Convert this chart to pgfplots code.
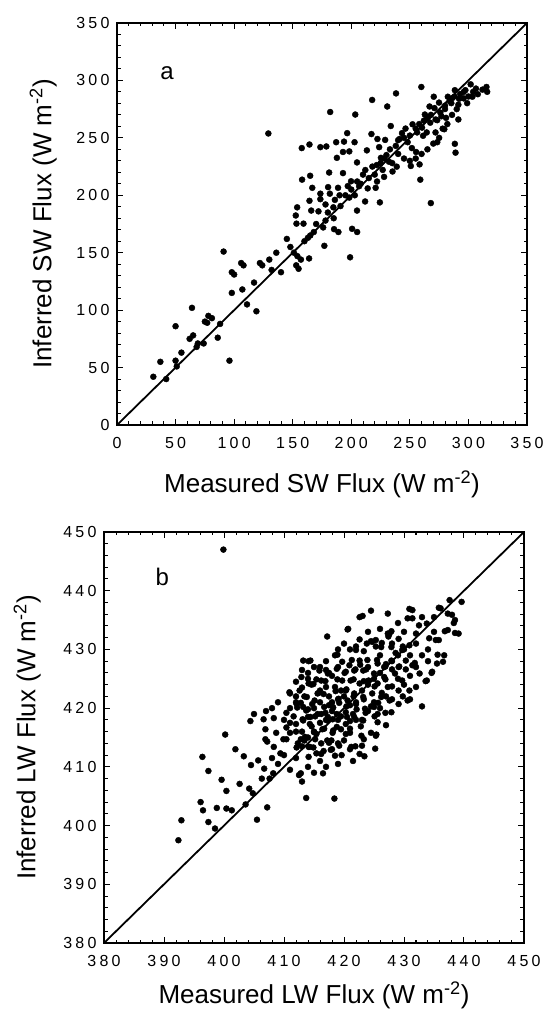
\documentclass[border=0pt]{standalone}
\usepackage{fontspec}
\setmainfont{Liberation Sans}
\newfontfamily\tickfont[LetterSpace=20]{Liberation Sans}
\usepackage{pgfplots}
\pgfplotsset{compat=1.18}
\pgfplotsset{
  myax/.style={
    scale only axis, anchor=south west,
    tick align=inside, tick pos=both,
    major tick length=6pt, minor tick length=3.5pt,
    axis line style={line width=1.3pt},
    every tick/.style={black, line width=1pt},
    ticklabel style={font=\tickfont\fontsize{16}{16}\selectfont},
    xticklabel style={yshift=-9pt},
    yticklabel style={xshift=-4pt},
    /pgf/number format/assume math mode=true,
    /pgf/number format/1000 sep={},
    label style={font=\fontsize{26}{26}\selectfont},
    minor x tick num=4, minor y tick num=4,
  },
  dots/.style={only marks, mark=*, mark size=3pt, black, mark options={fill=black}},
}
\begin{document}
\begin{tikzpicture}[x=1pt,y=1pt]
\path[use as bounding box] (0,0) rectangle (552,1017);
% ---------------- panel a ----------------
\begin{axis}[myax, at={(117pt,592pt)}, width=410pt, height=402pt,
  xmin=0, xmax=350, ymin=0, ymax=350,
  xtick={0,50,...,350}, ytick={0,50,...,350},
  xlabel={Measured SW Flux (W m\textsuperscript{-2})},
  ylabel={Inferred SW Flux (W m\textsuperscript{-2})},
  xlabel style={at={(axis description cs:0.5,-0.147)}, anchor=center},
  ylabel style={at={(axis description cs:-0.180,0.5)}, anchor=center},
]
\addplot[black, line width=1.8pt] coordinates {(0,0) (350,350)};
\addplot[dots] coordinates {
(31,42) (37,55) (42,40) (50,86) (50,56) (51,51) (55,63) (64,102) (62,75) (65,78)
(68,68) (69,71) (74,71) (75,90) (78,95) (81,93) (77,89) (86,76) (88,88) (91,151)
(96,56) (98,133) (100,131) (98,115) (106,141) (108,139) (107,118) (111,105) (117,124) (119,99)
(122,141) (124,139) (130,144) (132,135) (136,150) (140,133) (145,162) (148,155) (151,150) (154,147)
(155,136) (157,144) (153,139) (164,145) (163,163) (177,156) (189,168) (199,146) (205,168)
(129.2,253.8) (157.7,241.1) (164.3,244.2) (164.9,217.0) (158.0,213.6) (182.0,272.5) (173.6,241.9) (178.7,242.5)
(181.1,219.8) (181.7,201.4) (173.6,201.4) (166.7,206.5) (164.3,195.2) (153.8,189.5) (152.6,182.4) (153.2,175.3)
(159.2,175.3) (185.3,170.5) (200.7,170.8) (165.8,186.7) (173.6,196.6) (184.7,189.5) (190.8,190.6) (198.3,198.0)
(204.9,186.7) (211.8,194.6) (224.4,193.8) (206.7,207.9) (199.8,212.2) (192.9,219.3) (188.7,206.5) (180.2,207.1)
(187.7,232.6) (187.1,246.2) (192.9,237.7) (193.8,246.7) (196.5,254.1) (203.4,270.3) (198.3,238.2) (202.8,246.2)
(204.9,228.6) (213.3,239.1) (217.8,283.0) (217.2,253.3) (222.3,249.0) (221.7,226.3) (228.3,232.0) (225.3,232.6)
(232.2,229.2) (235.2,220.7) (238.8,224.9) (220.8,206.5) (226.8,222.1) (233.7,260.3) (238.2,288.7) (228.9,248.2)
(230.7,277.3) (223.8,241.9) (241.2,249.0) (243.3,254.1) (246.3,258.1) (248.1,246.2) (251.7,241.1) (258.3,226.9)
(250.8,225.5) (255.3,237.7) (258.9,213.6) (267.9,193.2) (261.3,251.8) (260.4,258.9) (264.4,254.7) (259.8,294.3)
(262.8,270.3) (270.4,285.8) (266.8,277.3) (271.0,275.9) (274.9,280.7) (267.4,263.2) (273.4,265.4) (277.0,268.8)
(282.4,285.8) (280.0,275.1) (286.0,284.4) (288.4,291.5) (292.9,288.1) (297.4,291.5) (301.9,296.6) (295.9,284.4)
(291.4,278.8) (285.4,280.2) (280.9,267.4) (288.4,244.8) (289.0,237.1) (291.4,266.0) (298.9,280.2) (306.4,292.9)
(315.4,294.3) (316.0,290.1) (303.4,285.8) (273.4,246.2) (271.9,254.7) (279.4,257.5) (252.3,261.8) (256.2,254.7)
(195,200) (200,205) (205,212) (210,218) (212,222) (215,215) (218,225) (225,228) (230,235) (233,240)
(238,243) (240,248) (245,250) (250,252) (255,258) (258,262) (262,265) (265,268) (268,270) (272,266)
(276,272) (280,278) (284,282) (288,286) (292,284) (296,290) (300,286) (304,290) (308,288) (312,292)
(290,275) (286,270) (282,262) (278,258) (275,250) (270,245) (265,240) (260,236) (255,232) (250,230)
(245,232) (240,236) (235,228) (228,216) (222,212) (185,180) (180,185) (178,178) (176,172) (170,175)
(168,168) (165,165) (160,160) (172,186) (178,192) (186,196) (190,200) (197,208) (203,200) (208,210)
(214,206) (220,218)
};
\node[font=\fontsize{24}{24}\selectfont] at (axis cs:42.7,306) {a};
\end{axis}
% ---------------- panel b ----------------
\begin{axis}[myax, at={(104pt,74pt)}, width=420pt, height=411pt,
  xmin=380, xmax=450, ymin=380, ymax=450,
  xtick={380,390,...,450}, ytick={380,390,...,450},
  xlabel={Measured LW Flux (W m\textsuperscript{-2})},
  ylabel={Inferred LW Flux (W m\textsuperscript{-2})},
  xlabel style={at={(axis description cs:0.5,-0.1265)}, anchor=center},
  ylabel style={at={(axis description cs:-0.183,0.5)}, anchor=center},
]
\addplot[black, line width=1.8pt] coordinates {(380,380) (450,450)};
\addplot[dots] coordinates {
(392.4,397.5) (392.9,400.9) (396.1,404.0) (396.5,402.6) (396.4,411.7) (397.4,409.3) (397.4,400.6) (398.5,399.5)
(398.8,403.0) (399.6,407.8) (400.4,405.9) (400.4,402.9) (401.3,402.6) (401.9,413.0) (402.6,407.1) (403.3,411.8)
(403.6,403.6) (404.2,406.3) (404.5,410.3) (404.8,405.5) (405.5,401.0) (405.7,411.1) (406.3,408.0) (406.7,409.7)
(407.2,403.1) (407.6,408.0) (408.2,408.9) (407.2,414.3) (408.3,413.4) (409.4,412.3) (412.5,408.6) (412.8,408.9)
(413.7,404.7) (414.1,411.7) (414.3,413.4) (416.5,408.9) (418.4,404.6) (417.8,412.9) (419.6,412.0) (421.5,411.0)
(421.9,413.5) (423.4,411.8) (425.2,413.1) (415.4,412.3) (419.0,414.0)
(399.9,447.0) (400.2,415.5) (404.4,417.8) (406.6,418.1) (408.3,418.3) (410.9,422.7) (412.2,420.1) (414.1,428.0)
(417.2,432.2) (420.7,433.5) (423.1,435.7) (424.5,436.6) (430.9,436.9) (430.6,435.3) (432.5,434.1) (435.8,437.1)
(437.6,438.4) (439.6,438.1) (438.0,435.9) (438.3,434.5) (438.5,432.8) (436.8,433.1) (434.2,431.9) (435.3,431.6)
(435.6,429.1) (436.5,427.9) (434.6,426.0) (433.6,424.6) (433.0,420.3) (429.8,422.0) (431.0,425.5) (431.8,427.7)
(429.8,430.5) (428.6,429.4) (427.4,432.2) (427.9,433.1) (426.3,431.1) (424.5,431.4) (423.3,429.7) (423.9,428.2)
(425.3,430.5) (425.5,428.2) (422.7,427.4) (421.3,428.2) (418.9,429.1) (421.9,426.6) (423.7,426.6) (426.9,427.1)
(428.0,426.6) (429.2,427.1) (430.3,426.6) (426.9,424.9) (428.0,423.7) (426.3,422.6) (425.1,423.7) (423.3,424.6)
(421.6,424.9) (420.1,426.0) (418.9,424.9) (417.5,426.0) (416.9,424.6) (415.4,424.9) (414.6,424.0) (414.0,426.0)
(418.6,422.9) (420.4,423.2) (421.6,422.0) (423.3,421.5) (424.5,420.3) (425.7,420.9) (426.9,419.2) (425.1,418.6)
(423.6,419.2) (422.1,419.8) (420.4,420.3) (419.2,420.9) (417.5,422.0) (415.8,422.6) (413.4,422.0) (412.8,420.9)
(414.0,419.8) (415.2,418.6) (416.9,419.2) (418.1,418.1) (419.5,418.6) (421.0,417.8) (422.8,416.9) (424.5,415.8)
(425.4,415.5) (423.3,414.7) (421.0,415.8) (419.5,416.4) (418.1,415.8) (416.4,416.4) (414.6,416.9) (413.1,418.1)
(411.6,418.6) (410.4,419.2) (411.0,415.8) (409.9,414.7) (408.7,415.8) (406.9,416.4) (406.9,414.7) (412.8,414.7)
(415.2,414.7) (417.5,414.1) (419.2,413.6) (421.0,413.0) (423.0,413.6)
(410.4,416.7) (410.4,414.7) (412.1,413.3) (413.4,414.5) (414.9,413.3) (416.6,412.7) (415.4,415.6) (417.2,414.5)
(418.2,416.2) (412.1,420.7) (413.7,419.6) (415.1,421.3) (416.6,422.4) (414.9,424.1) (417.2,417.9) (418.2,420.1)
(416.2,419.0) (414.3,417.3)
(413.2,428.1) (414.4,428.1) (415.9,426.4) (412.9,425.3) (414.1,424.2) (412.6,423.0) (413.8,421.9) (412.0,421.0)
(413.2,420.2) (414.7,420.7) (415.6,422.5) (416.2,424.7) (417.0,423.6) (417.3,425.9) (418.5,429.0) (419.7,427.9)
(418.8,426.7) (420.3,426.2) (420.9,427.3) (421.7,426.4) (422.6,428.1) (422.0,429.9) (423.8,431.0) (424.7,431.3)
(426.2,430.4) (427.3,432.7) (427.9,430.4) (429.1,431.8) (429.7,429.9) (430.9,430.7) (432.0,432.7) (433.8,434.4)
(435.0,435.5) (436.1,437.0) (437.3,436.1) (438.5,435.0) (439.1,432.7) (437.3,433.3) (435.8,431.6) (436.7,429.0)
(435.5,427.6) (434.7,426.2) (433.8,424.7) (432.0,423.6) (432.6,425.9) (431.4,427.3) (430.3,428.1) (429.1,427.0)
(427.9,428.1) (426.7,427.0) (425.6,427.6) (425.0,425.9) (426.7,425.3) (428.5,425.9) (429.7,424.7) (430.9,423.0)
(429.1,423.0) (427.3,423.6) (425.6,424.2) (424.1,424.7) (423.2,426.4) (422.6,424.2) (421.1,424.7) (419.7,424.7)
(418.5,423.6) (420.3,423.0) (421.7,422.5) (423.2,421.9) (424.7,422.5) (426.2,421.9) (427.6,421.3) (429.1,420.7)
(430.6,421.3) (425.0,420.2) (423.5,419.9) (422.0,420.7) (420.6,421.3) (419.1,421.6) (417.9,420.7) (416.7,420.2)
(415.6,419.0) (414.4,418.5) (413.2,417.9) (412.0,417.3) (417.3,418.5) (418.8,419.0) (420.3,419.3) (421.7,418.5)
(423.2,417.9) (425.6,417.6) (427.0,417.1) (425.6,419.0) (427.9,419.3) (420.3,417.3) (418.8,416.8) (416.7,416.5)
(415.0,415.9) (413.5,415.1) (412.3,414.0) (414.1,413.4) (416.2,414.0) (417.9,414.5) (420.3,415.6) (422.9,415.3)
(425.3,415.3) (421.2,413.4) (422.6,412.2) (418.5,411.9) (416.2,412.2) (427.3,436.1) (427.6,432.7) (431.4,436.7)
(431.4,435.3) (422.6,435.5) (420.6,433.4) (422.6,431.7) (425.3,431.6)
(413,416) (414,418.5) (415,420) (416,421) (417,418) (418,419.5) (419,421.5) (420,422) (421,420.5) (422,421)
(423,423) (424,424) (425,425) (426,426) (427,427.5) (428,428) (429,429) (430,430) (416,417.5) (417.5,420.5)
(419,418) (420.5,418.5) (421.5,419) (418,421) (419.5,423) (418,425.5) (416,423) (415,416) (414,415) (413,413.5)
(412,416) (411,417.5) (410,418) (411,420) (412,422) (413,423.5) (414,425) (416,427) (417,428) (419,430)
(420,431) (422,430.5) (424,427) (426,429) (428,431) (430,433) (432,431) (433,429) (434,428) (431,429)
(429,425) (427,422) (425,421) (423,418) (421,416.5) (420,414.5) (418,413) (416,411) (414,410) (412,411.5)
(410,412) (409,410.5) (408,411.5) (411,409.5) (413,407.5) (415,409) (417,410) (419,410.5) (422,418) (424,419.5)
(426,420) (428,421.5) (430,424) (431,421.5) (432,427) (434,430) (435,433) (433,435.5) (429,434.5) (426,433.5)
(424,433) (421,430) (419,427) (417,426.5) (415,427) (413,426.5) (412,424.5) (411,422.5) (409,421) (408,420)
(407,419.5) (405,419)
};
\node[font=\fontsize{24}{24}\selectfont] at (axis cs:389.7,442.4) {b};
\end{axis}
\end{tikzpicture}
\end{document}
